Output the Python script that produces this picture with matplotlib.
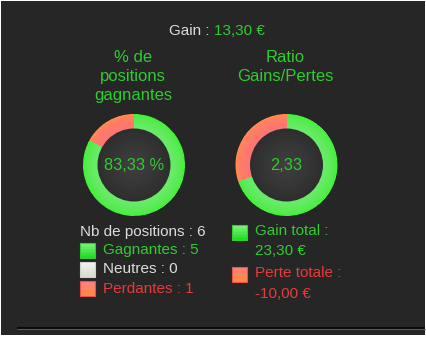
import numpy as np
import matplotlib
matplotlib.use("Agg")
import matplotlib.pyplot as plt
from matplotlib.patches import Wedge, Circle, Rectangle
from matplotlib.colors import to_rgb

# Portfolio summary values
gain_net = 13.30
gain_total = 23.30
perte_totale = -10.00
positions_labels = ["Gagnantes", "Neutres", "Perdantes"]
positions_counts = [5, 0, 1]

W, H = 427, 339
fig = plt.figure(figsize=(W / 100, H / 100), dpi=100)
fig.patch.set_facecolor("white")
ax = fig.add_axes([0, 0, 1, 1])
ax.set_xlim(0, W)
ax.set_ylim(H, 0)
ax.set_aspect("equal")
ax.axis("off")

BG = "#262626"
GREEN_TXT = "#2fcc2f"
RED_TXT = "#e83a3a"
GREY_TXT = "#dcdcdc"
FONT = "Liberation Sans"

# Panel background and bottom rule
ax.add_patch(Rectangle((1, 1), 424, 334, facecolor=BG, edgecolor="none", zorder=0))
ax.plot([17, 425], [327.5, 327.5], color="#050505", lw=1.2, zorder=1, solid_capstyle="butt")
ax.plot([17, 425], [329, 329], color="#5a5a5a", lw=0.8, zorder=1, solid_capstyle="butt")


def mix(c1, c2, t):
    a, b = np.array(to_rgb(c1)), np.array(to_rgb(c2))
    return tuple(a + (b - a) * t)


def gradient_wedge(cx, cy, r_out, r_in, theta1, theta2, c_out, c_in, n=16):
    # y axis is inverted, so angles are mirrored; draw outer first, each
    # ring reaching down to r_in so that no seams appear between bands
    radii = np.linspace(r_out, r_in + 0.8, n)
    for i, r in enumerate(radii):
        t = (i / (n - 1)) ** 0.45
        ax.add_patch(Wedge((cx, cy), r, -theta2, -theta1, width=r - r_in,
                           facecolor=mix(c_out, c_in, t), edgecolor="none",
                           antialiased=(i == 0), zorder=2))


def donut(cx, cy, frac_red, label):
    r_out, r_in = 51, 36.5
    red_deg = 360 * frac_red
    gradient_wedge(cx, cy, r_out, r_in, 90 + red_deg - 360, 90, "#38ee28", "#6aea6a")
    if red_deg > 0:
        gradient_wedge(cx, cy, r_out, r_in, 90, 90 + red_deg, "#ff9048", "#ff7474")
    # inner disc with soft radial shading
    for i in range(14):
        r = r_in - i * (r_in / 14)
        ax.add_patch(Circle((cx, cy), r, facecolor=mix("#2e2e2e", "#3f3f3f", i / 13),
                            edgecolor="none", antialiased=(i == 0), zorder=3))
    ax.text(cx, cy + 1, label, color=GREEN_TXT, fontsize=11.8, family=FONT,
            ha="center", va="center", zorder=4)


n_total = sum(positions_counts)
pct_win = positions_counts[0] / n_total * 100
ratio = gain_total / abs(perte_totale)


def fr(v, d=2):
    return f"{v:.{d}f}".replace(".", ",")


# Header
ax.text(214, 31, "Gain : ", color=GREY_TXT, fontsize=11, family=FONT, ha="right", va="center")
ax.text(214, 31, f"{fr(gain_net)} €", color=GREEN_TXT, fontsize=11, family=FONT, ha="left", va="center")

# Titles
TFS = 12
for i, line in enumerate(["% de", "positions", "gagnantes"]):
    ax.text(133, 58 + i * 18.7, line, color=GREEN_TXT, fontsize=TFS, family=FONT,
            ha="center", va="center")
for i, line in enumerate(["Ratio", "Gains/Pertes"]):
    ax.text(285, 58 + i * 18.7, line, color=GREEN_TXT, fontsize=TFS, family=FONT,
            ha="center", va="center")

donut(134, 165, positions_counts[2] / n_total, f"{fr(pct_win)} %")
donut(286.5, 165, abs(perte_totale) / (gain_total + abs(perte_totale)), fr(ratio))


def swatch(x, y, top, bottom, edge):
    n = 10
    h = 15 / n
    for i in range(n):
        ax.add_patch(Rectangle((x, y + i * h), 15, h + 0.2,
                               facecolor=mix(top, bottom, i / (n - 1)),
                               edgecolor="none", zorder=2))
    ax.add_patch(Rectangle((x, y), 15, 15, facecolor="none", edgecolor=edge, lw=0.8, zorder=3))


FS = 11
# Left legend
ax.text(80, 232, f"Nb de positions : {n_total}", color=GREY_TXT, fontsize=FS, family=FONT,
        ha="left", va="center")
leg = [("#7ff27f", "#22dd22", "#33cc33", GREEN_TXT),
       ("#f4f4f4", "#d8dccc", "#cfcfcf", GREY_TXT),
       ("#ff8080", "#ff8a40", "#ee5050", RED_TXT)]
for i, (lab, cnt) in enumerate(zip(positions_labels, positions_counts)):
    top, bot, edge, tc = leg[i]
    y = 250 + i * 19.3
    swatch(80, y - 7.5, top, bot, edge)
    ax.text(103, y, f"{lab} : {cnt}", color=tc, fontsize=FS, family=FONT, ha="left", va="center")

# Right legend
swatch(232, 224.5, "#7ff27f", "#22dd22", "#33cc33")
ax.text(255, 231, "Gain total :", color=GREEN_TXT, fontsize=FS, family=FONT, ha="left", va="center")
ax.text(255, 251, f"{fr(gain_total)} €", color=GREEN_TXT, fontsize=FS, family=FONT, ha="left", va="center")
swatch(232, 266.5, "#ff8080", "#ff8a40", "#ee5050")
ax.text(255, 273, "Perte totale :", color=RED_TXT, fontsize=FS, family=FONT, ha="left", va="center")
ax.text(255, 294, f"{fr(perte_totale)} €", color=RED_TXT, fontsize=FS, family=FONT, ha="left", va="center")

fig.savefig("out.png", dpi=100, facecolor=fig.get_facecolor())
